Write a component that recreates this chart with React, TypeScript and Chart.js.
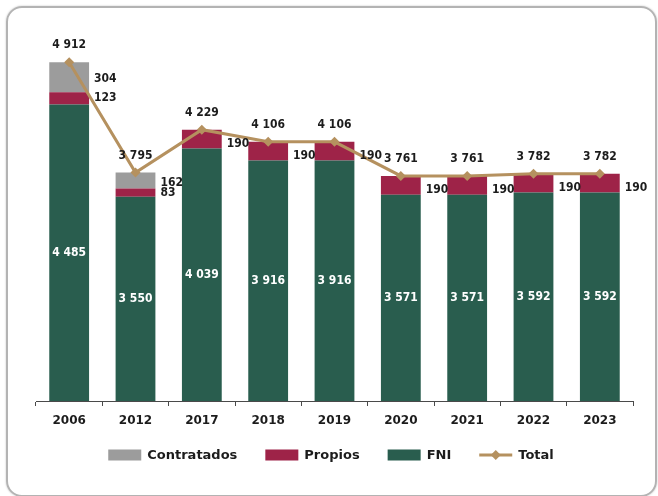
import React, { useEffect, useRef } from "react";
import { Chart, registerables } from "chart.js";

Chart.register(...registerables);

// ---- data ----
const years = ["2006", "2012", "2017", "2018", "2019", "2020", "2021", "2022", "2023"];
const fni = [4485, 3550, 4039, 3916, 3916, 3571, 3571, 3592, 3592];
const propios = [123, 83, 190, 190, 190, 190, 190, 190, 190];
const contratados: (number | null)[] = [304, 162, null, null, null, null, null, null, null];
const total = [4912, 3795, 4229, 4106, 4106, 3761, 3761, 3782, 3782];

// ---- styles ----
const GRAY = "#9c9c9c";
const RED = "#9e2348";
const GREEN = "#295d4e";
const GOLD = "#b5915f";
const TEXT = "#1c1c1c";
const FONT = '"DejaVu Sans", "Liberation Sans", sans-serif';
const NUM_FONT = '"DejaVu Sans Condensed", "DejaVu Sans", sans-serif';

const fmt = (v: number) => String(v).replace(/\B(?=(\d{3})+(?!\d))/g, " ");

const labelsPlugin = {
  id: "valueLabels",
  afterDatasetsDraw(chart: any) {
    const ctx = chart.ctx;
    const area = chart.chartArea;
    const mF = chart.getDatasetMeta(0);
    const mP = chart.getDatasetMeta(1);
    const mC = chart.getDatasetMeta(2);
    const mT = chart.getDatasetMeta(3);
    ctx.save();
    ctx.font = `bold 12px ${NUM_FONT}`;
    ctx.textBaseline = "middle";
    years.forEach((_, i) => {
      const f = mF.data[i].getProps(["x", "y", "base", "width"], true);
      const p = mP.data[i].getProps(["x", "y", "base", "width"], true);
      const t = mT.data[i].getProps(["x", "y"], true);
      const fBottom = Math.min(f.base, area.bottom);
      ctx.fillStyle = "#ffffff";
      ctx.textAlign = "center";
      ctx.fillText(fmt(fni[i]), f.x, (f.y + fBottom) / 2);

      const right = f.x + f.width / 2 + 5;
      ctx.fillStyle = TEXT;
      ctx.textAlign = "left";
      const c = contratados[i];
      if (c != null) {
        const ce = mC.data[i].getProps(["y", "base"], true);
        ctx.fillText(fmt(c), right, (ce.y + ce.base) / 2 + 2);
        ctx.fillText(fmt(propios[i]), right, (p.y + p.base) / 2);
      } else {
        ctx.fillText(fmt(propios[i]), right, (p.y + p.base) / 2 + 5);
      }
      ctx.textAlign = "center";
      ctx.fillText(fmt(total[i]), t.x, t.y - 17);
    });
    ctx.restore();
  },
};

const legendPlugin = {
  id: "customLegend",
  afterDraw(chart: any) {
    const ctx = chart.ctx;
    const order = [2, 1, 0, 3];
    const boxW = 33;
    const boxH = 11;
    const gapText = 6;
    const gapItem = 28;
    ctx.save();
    ctx.font = `bold 13px ${FONT}`;
    ctx.textBaseline = "middle";
    ctx.textAlign = "left";
    const items = order.map((di) => {
      const ds = chart.data.datasets[di];
      return { ds, w: boxW + gapText + ctx.measureText(ds.label).width };
    });
    const totalW = items.reduce((s, it) => s + it.w, 0) + gapItem * (items.length - 1);
    let x = chart.width / 2 - totalW / 2 + 2;
    const y = chart.chartArea.bottom + 54;
    items.forEach(({ ds, w }) => {
      if (ds.type === "line") {
        ctx.strokeStyle = ds.borderColor;
        ctx.lineWidth = 3;
        ctx.beginPath();
        ctx.moveTo(x, y);
        ctx.lineTo(x + boxW, y);
        ctx.stroke();
        const cx = x + boxW / 2;
        const r = 5;
        ctx.fillStyle = ds.borderColor;
        ctx.beginPath();
        ctx.moveTo(cx, y - r);
        ctx.lineTo(cx + r, y);
        ctx.lineTo(cx, y + r);
        ctx.lineTo(cx - r, y);
        ctx.closePath();
        ctx.fill();
      } else {
        ctx.fillStyle = ds.backgroundColor;
        ctx.fillRect(x, y - boxH / 2, boxW, boxH);
      }
      ctx.fillStyle = TEXT;
      ctx.fillText(ds.label, x + boxW + gapText, y + 0.5);
      x += w + gapItem;
    });
    ctx.restore();
  },
};

function BarLineChart() {
  const ref = useRef<HTMLCanvasElement | null>(null);
  useEffect(() => {
    if (!ref.current) return;
    const chart = new Chart(ref.current, {
      type: "bar",
      data: {
        labels: years,
        datasets: [
          {
            type: "bar",
            label: "FNI",
            data: fni,
            backgroundColor: GREEN,
            stack: "bars",
            order: 1,
            clip: 0,
            barPercentage: 0.6,
            categoryPercentage: 1,
          },
          {
            type: "bar",
            label: "Propios",
            data: propios,
            backgroundColor: RED,
            stack: "bars",
            order: 1,
            clip: 0,
            barPercentage: 0.6,
            categoryPercentage: 1,
          },
          {
            type: "bar",
            label: "Contratados",
            data: contratados,
            backgroundColor: GRAY,
            stack: "bars",
            order: 1,
            clip: 0,
            barPercentage: 0.6,
            categoryPercentage: 1,
          },
          {
            type: "line",
            label: "Total",
            data: total,
            borderColor: GOLD,
            backgroundColor: GOLD,
            borderWidth: 3,
            pointStyle: "rectRot",
            pointRadius: 5,
            pointBackgroundColor: GOLD,
            pointBorderColor: GOLD,
            pointBorderWidth: 0,
            stack: "total",
            order: 0,
            tension: 0,
          },
        ] as any,
      },
      options: {
        responsive: false,
        animation: false,
        devicePixelRatio: 1,
        layout: { padding: { left: 36, right: 25, top: 24, bottom: 59.6 } },
        plugins: {
          legend: { display: false },
          tooltip: { enabled: false },
        },
        scales: {
          x: {
            stacked: true,
            grid: {
              display: true,
              drawOnChartArea: false,
              drawTicks: true,
              tickLength: 5,
              color: "#4a4a4a",
              offset: true,
            },
            border: { display: true, color: "#4a4a4a", width: 1 },
            ticks: {
              color: TEXT,
              font: { family: FONT, weight: "bold", size: 12 },
              padding: 8,
            },
          },
          y: {
            display: false,
            stacked: true,
            min: 1480,
            max: 5300,
          },
        },
      },
      plugins: [labelsPlugin, legendPlugin],
    });
    return () => chart.destroy();
  }, []);
  return <canvas ref={ref} width={658} height={496} style={{ display: "block", position: "absolute", left: 0, top: 0 }} />;
}

export default function App() {
  return (
    <div style={{ position: "absolute", left: 0, top: 0, width: 658, height: 496, background: "#fff", overflow: "hidden" }}>
      <div
        style={{
          position: "absolute",
          left: 6,
          top: 6,
          width: 651,
          height: 491,
          boxSizing: "border-box",
          border: "2px solid #b3b3b3",
          borderRadius: 16,
          boxShadow: "0 0 2px rgba(0,0,0,0.25)",
        }}
      />
      <BarLineChart />
    </div>
  );
}
